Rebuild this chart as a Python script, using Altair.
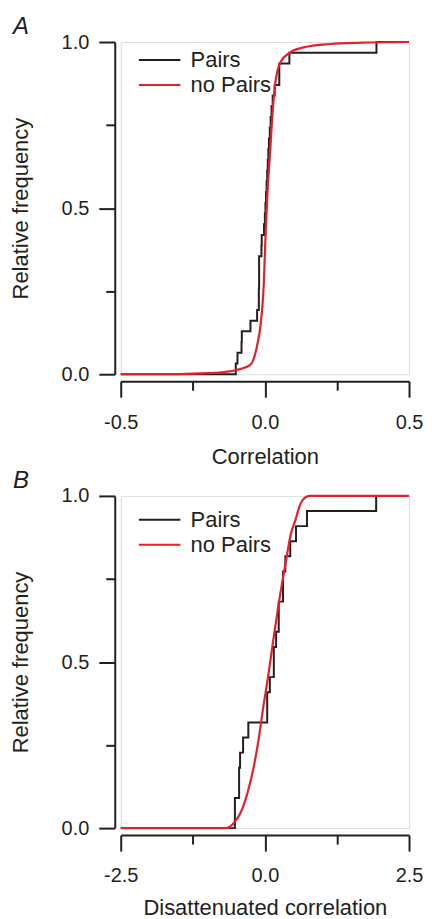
import altair as alt
import pandas as pd

FONT = "Liberation Sans"
BLACK = "#231f20"
RED = "#e4212b"

# ---- Panel A: Correlation ----
pairs_a = [-0.101, -0.095, -0.081, -0.080, -0.050, -0.027, -0.021, -0.021, -0.020,
           -0.020, -0.020, -0.012, -0.011, -0.003, 0.0, 0.002, 0.004, 0.006, 0.008,
           0.010, 0.012, 0.014, 0.017, 0.020, 0.023, 0.027, 0.034, 0.050, 0.050,
           0.085, 0.387]
nopairs_a_x = [-0.5, -0.3, -0.2, -0.15, -0.102, -0.0505, -0.0265, -0.015, -0.0034,
               0.002, 0.008, 0.019, 0.026, 0.0365, 0.054, 0.088, 0.134, 0.226, 0.34, 0.5]
nopairs_a_y = [0.0, 0.0005, 0.003, 0.006, 0.012, 0.028, 0.088, 0.148, 0.28,
               0.41, 0.53, 0.68, 0.78, 0.879, 0.939, 0.969, 0.984, 0.994, 0.998, 1.0]

# ---- Panel B: Disattenuated correlation ----
pairs_b = [-0.52, -0.52, -0.447, -0.447, -0.43, -0.378, -0.287, 0.04, 0.04, 0.086,
           0.155, 0.155, 0.195, 0.24, 0.24, 0.315, 0.315, 0.355, 0.44, 0.54, 0.73, 1.93]
nopairs_b_x = [-2.5, -0.68, -0.53, -0.42, -0.30, -0.19, -0.10, -0.017, 0.04, 0.155,
               0.27, 0.37, 0.44, 0.53, 0.61, 0.73, 0.78, 2.5]
nopairs_b_y = [0.0, 0.0, 0.017, 0.047, 0.107, 0.187, 0.277, 0.377, 0.4375, 0.577,
               0.708, 0.808, 0.878, 0.928, 0.973, 0.998, 1.0, 1.0]

series_names = ["Pairs", "no Pairs"]
y_ticks = [0.0, 0.25, 0.5, 0.75, 1.0]
panel_letters = ["A", "B"]


def label_expr(major):
    return (f"abs(datum.value % {major}) > 1e-9 ? '' : "
            "replace(format(datum.value, '.1f'), '\u2212', '-')")


def tick_size(major):
    return {"condition": {"test": f"abs(datum.value % {major}) > 1e-9", "value": 9},
            "value": 16}


def axis_common():
    return dict(labelFont=FONT, labelFontSize=20, labelColor=BLACK, labelFlush=False,
                titleFont=FONT, titleFontSize=22, titleFontWeight="normal",
                titleColor=BLACK, domainColor=BLACK, domainWidth=2,
                tickColor=BLACK, tickWidth=2, grid=False)


def make_panel(pairs, np_x, np_y, xmin, xmax, xtitle, letter, legend_y, x_title_pad):
    n = len(pairs)
    s = sorted(pairs)
    step_df = pd.DataFrame({
        "x": [xmin] + s + [xmax],
        "y": [0.0] + [(i + 1) / n for i in range(n)] + [1.0],
        "series": ["Pairs"] * (n + 2),
    })
    curve_df = pd.DataFrame({"x": np_x, "y": np_y, "series": ["no Pairs"] * len(np_x)})
    x_major = xmax
    x_ticks = [xmin, xmin / 2, 0.0, xmax / 2, xmax]

    x_enc = alt.X("x:Q", scale=alt.Scale(domain=[xmin, xmax], nice=False, zero=False),
                  axis=alt.Axis(title=xtitle, values=x_ticks, labelExpr=label_expr(x_major),
                                tickSize=tick_size(x_major), offset=7, labelPadding=15,
                                titlePadding=x_title_pad, **axis_common()))
    y_enc = alt.Y("y:Q", scale=alt.Scale(domain=[0, 1], nice=False),
                  axis=alt.Axis(title="Relative frequency", values=y_ticks,
                                labelExpr=label_expr(0.5), tickSize=tick_size(0.5),
                                offset=6, labelPadding=10, titlePadding=29,
                                **axis_common()))
    color = alt.Color("series:N",
                      scale=alt.Scale(domain=series_names, range=[BLACK, RED]),
                      legend=alt.Legend(title=None, orient="none", legendX=25,
                                        legendY=legend_y,
                                        symbolType="M-1.6,0H1.6", symbolSize=676,
                                        symbolStrokeWidth=2, labelFont=FONT,
                                        labelFontSize=22, labelColor=BLACK,
                                        labelOffset=17, rowPadding=0, padding=0))
    step = alt.Chart(step_df).mark_line(interpolate="step-after", strokeWidth=2).encode(
        x=x_enc, y=y_enc, color=color, order="x:Q")
    curve = alt.Chart(curve_df).mark_line(interpolate="monotone", strokeWidth=2.2).encode(
        x=x_enc, y=y_enc, color=color, order="x:Q")
    tag = alt.Chart(pd.DataFrame({"t": [letter]})).mark_text(
        font=FONT, fontSize=24, fontStyle="italic", color=BLACK,
        align="left", baseline="alphabetic").encode(
        text="t:N", x=alt.value(-108), y=alt.value(-8))
    return alt.layer(step, curve, tag).properties(width=289, height=333)


panel_a = make_panel(pairs_a, nopairs_a_x, nopairs_a_y, -0.5, 0.5, "Correlation",
                     panel_letters[0], 4, 14)
panel_b = make_panel(pairs_b, nopairs_b_x, nopairs_b_y, -2.5, 2.5,
                     "Disattenuated correlation", panel_letters[1], 10, 12)

chart = alt.vconcat(panel_a, panel_b, spacing=0).resolve_legend(
    color="independent").properties(
    padding={"left": 0, "top": 5, "right": 0, "bottom": 0}
).configure_view(stroke=None).configure(background="white")

chart.save("out.html", embed_options={"renderer": "svg", "actions": False})
